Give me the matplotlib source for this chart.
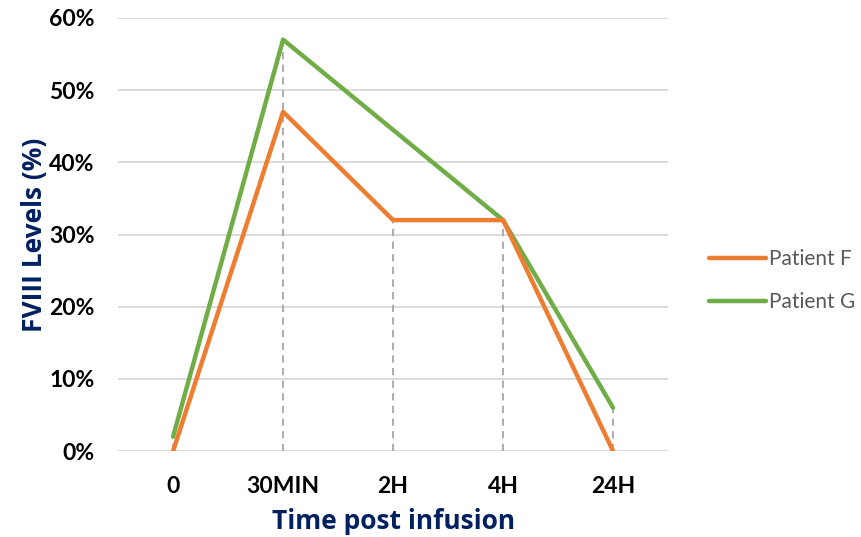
import numpy as np
import matplotlib.pyplot as plt

# Data (Patient G has no point at 2H; the line skips it)
categories = ['0', '30MIN', '2H', '4H', '24H']
patient_f = [0, 47, 32, 32, 0]
patient_g = [2, 57, np.nan, 32, 6]
y_ticks = [0, 10, 20, 30, 40, 50, 60]

plt.rcParams['font.family'] = ['Lato', 'DejaVu Sans']

fig = plt.figure(figsize=(8.62, 5.37), dpi=100)
ax = fig.add_axes([0.137, 0.160, 0.638, 0.8065])

x = np.arange(len(categories)) + 0.5
f = np.array(patient_f, dtype=float)
g = np.array(patient_g, dtype=float)

# grid lines
for t in y_ticks:
    ax.axhline(t, color='#D9D9D9', lw=1.3, zorder=0)

# drop lines from the highest point at each category down to the axis
tops = np.fmax(f, g)
ax.vlines(x, 0, tops, colors='#A6A6A6', linestyles=(0, (4, 3)), lw=1.3, zorder=1)

ok = ~np.isnan(g)
ax.plot(x, f, color='#ED7D31', lw=3.2, solid_capstyle='round', label='Patient F', zorder=3)
ax.plot(x[ok], g[ok], color='#70AD47', lw=3.2, solid_capstyle='round', label='Patient G', zorder=2)

ax.set_xlim(0, len(categories))
ax.set_ylim(0, 60)
ax.set_xticks(x)
ax.set_xticklabels(categories, fontsize=16.5, fontweight='bold')
ax.set_yticks(y_ticks)
ax.set_yticklabels([f'{t}%' for t in y_ticks], fontsize=16.5, fontweight='bold')
ax.tick_params(length=0)
ax.tick_params(axis='y', pad=17)
ax.tick_params(axis='x', pad=18)
for s in ax.spines.values():
    s.set_visible(False)

title_font = ['Open Sans', 'DejaVu Sans']
ax.set_xlabel('Time post infusion', fontsize=19, fontweight='bold', color='#002060',
              labelpad=8, family=title_font)
ax.set_ylabel('FVIII Levels (%)', fontsize=19, fontweight='bold', color='#002060',
              labelpad=1, family=title_font)

h, l = ax.get_legend_handles_labels()
leg = ax.legend(h, l, loc='center left', bbox_to_anchor=(1.041, 0.394), frameon=False,
                fontsize=15, handlelength=2.7, handletextpad=0.15, labelspacing=1.1)
for t in leg.get_texts():
    t.set_color('#595959')

fig.savefig('out.png', dpi=100)
